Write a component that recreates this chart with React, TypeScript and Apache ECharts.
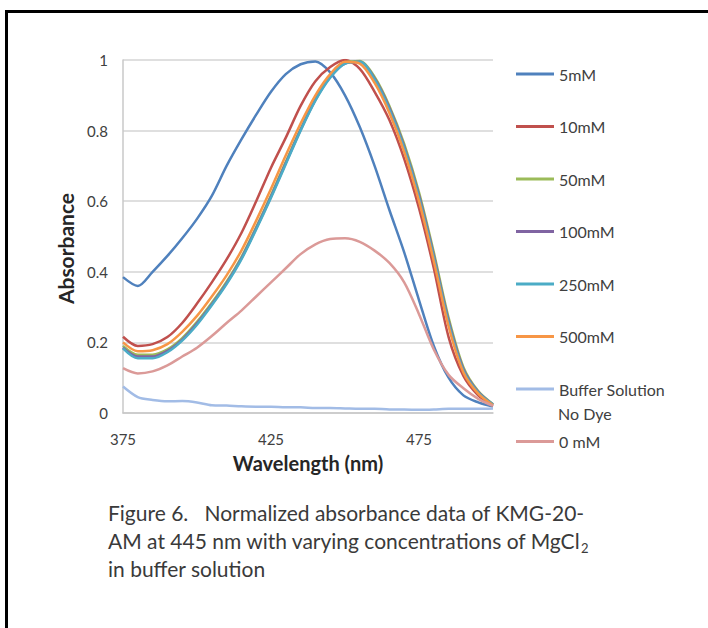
import React, { useEffect, useRef } from "react";
import * as echarts from "echarts";

const wavelengths = [375, 380, 385, 390, 395, 400, 405, 410, 415, 420, 425, 430, 435, 440, 445, 450, 455, 460, 465, 470, 475, 480, 485, 490, 495, 500];

const s5mM = [0.385, 0.36, 0.4, 0.445, 0.495, 0.55, 0.615, 0.7, 0.775, 0.845, 0.91, 0.96, 0.988, 0.996, 0.965, 0.9, 0.81, 0.7, 0.575, 0.455, 0.32, 0.19, 0.1, 0.05, 0.03, 0.018];
const s10mM = [0.216, 0.19, 0.195, 0.215, 0.255, 0.31, 0.37, 0.435, 0.51, 0.6, 0.695, 0.78, 0.87, 0.94, 0.98, 1.0, 0.975, 0.91, 0.83, 0.72, 0.58, 0.41, 0.215, 0.105, 0.05, 0.02];
const s50mM = [0.19, 0.165, 0.165, 0.18, 0.212, 0.258, 0.312, 0.372, 0.442, 0.527, 0.617, 0.712, 0.805, 0.89, 0.955, 0.992, 0.997, 0.952, 0.87, 0.762, 0.625, 0.455, 0.27, 0.13, 0.062, 0.025];
const s100mM = [0.185, 0.16, 0.16, 0.176, 0.208, 0.254, 0.308, 0.368, 0.438, 0.523, 0.613, 0.708, 0.802, 0.887, 0.952, 0.99, 0.995, 0.948, 0.865, 0.755, 0.617, 0.447, 0.262, 0.125, 0.06, 0.024];
const s250mM = [0.183, 0.155, 0.155, 0.172, 0.205, 0.25, 0.305, 0.365, 0.435, 0.52, 0.61, 0.705, 0.8, 0.885, 0.95, 0.99, 0.995, 0.945, 0.86, 0.75, 0.61, 0.44, 0.255, 0.12, 0.058, 0.024];
const s500mM = [0.2, 0.175, 0.178, 0.195, 0.23, 0.275, 0.33, 0.39, 0.46, 0.545, 0.635, 0.73, 0.82, 0.9, 0.96, 0.995, 0.99, 0.935, 0.85, 0.74, 0.6, 0.43, 0.245, 0.115, 0.055, 0.022];
const sBuffer = [0.075, 0.045, 0.037, 0.033, 0.034, 0.03, 0.022, 0.021, 0.019, 0.018, 0.018, 0.016, 0.016, 0.014, 0.014, 0.013, 0.012, 0.012, 0.01, 0.01, 0.009, 0.01, 0.012, 0.012, 0.012, 0.013];
const s0mM = [0.127, 0.112, 0.118, 0.135, 0.16, 0.185, 0.218, 0.255, 0.29, 0.33, 0.37, 0.41, 0.45, 0.478, 0.493, 0.495, 0.485, 0.46, 0.425, 0.37, 0.28, 0.18, 0.108, 0.07, 0.04, 0.02];

const seriesNames = ["5mM", "10mM", "50mM", "100mM", "250mM", "500mM", "Buffer Solution", "0 mM"];
const seriesValues = [s5mM, s10mM, s50mM, s100mM, s250mM, s500mM, sBuffer, s0mM];
const seriesColors = ["#4F81BD", "#C0504D", "#9BBB59", "#8064A2", "#4BACC6", "#F79646", "#A2BCE6", "#DB9A98"];

const xTickLabels = [375, 425, 475];
const captionLines = [
  "Figure 6.   Normalized absorbance data of KMG-20-",
  "AM at 445 nm with varying concentrations of MgCl",
  "in buffer solution",
];

const FONT = "Lato, 'Open Sans', sans-serif";
const TEXT = "#404040";

export default function App() {
  const ref = useRef<HTMLDivElement>(null);

  useEffect(() => {
    if (!ref.current) return;
    const chart = echarts.init(ref.current, undefined, { renderer: "svg" });
    const option: any = {
      animation: false,
      backgroundColor: "#ffffff",
      textStyle: { fontFamily: FONT },
      grid: { left: 123, top: 60, width: 370, height: 353 },
      xAxis: {
        type: "value",
        min: 375,
        max: 500,
        axisLine: { show: true, lineStyle: { color: "#C8C8C8", width: 1.5 } },
        axisTick: { show: false },
        splitLine: { show: false },
        axisLabel: {
          customValues: xTickLabels,
          margin: 18,
          fontSize: 15,
          color: TEXT,
          fontFamily: FONT,
        },
        name: "Wavelength (nm)",
        nameLocation: "middle",
        nameGap: 40,
        nameTextStyle: { fontSize: 20, fontWeight: "bold", color: "#262626", fontFamily: FONT },
      },
      yAxis: {
        type: "value",
        min: 0,
        max: 1,
        interval: 0.2,
        axisLine: { show: true, lineStyle: { color: "#C8C8C8", width: 1.5 } },
        axisTick: { show: false },
        splitLine: { show: true, lineStyle: { color: "#D4D4D4", width: 1.5 } },
        axisLabel: { margin: 15, fontSize: 15, color: TEXT, fontFamily: FONT },
        name: "Absorbance",
        nameLocation: "middle",
        nameGap: 40,
        nameTextStyle: {
          fontSize: 21,
          fontWeight: "bold",
          color: "#262626",
          fontFamily: FONT,
          padding: [0, 24, 0, 0],
        },
      },
      legend: {
        orient: "vertical",
        left: 516,
        top: 66,
        padding: 0,
        itemGap: 36.5,
        itemWidth: 38,
        itemHeight: 3,
        icon: "rect",
        data: seriesNames,
        textStyle: { fontSize: 16, lineHeight: 16, color: TEXT, fontFamily: FONT, padding: [0, 0, 0, 0] },
      },
      series: seriesNames.map((name, i) => ({
        name,
        type: "line",
        data: wavelengths.map((w, j) => [w, seriesValues[i][j]]),
        showSymbol: false,
        symbol: "none",
        smooth: 0.3,
        color: seriesColors[i],
        lineStyle: { width: 2.5, color: seriesColors[i] },
      })),
      graphic: [
        { type: "rect", shape: { x: 5, y: 10, width: 703, height: 3 }, style: { fill: "#000" } },
        { type: "rect", shape: { x: 5, y: 10, width: 3, height: 618 }, style: { fill: "#000" } },
        {
          type: "text",
          x: 558,
          y: 413,
          style: { text: "No Dye", fontSize: 16, fill: TEXT, fontFamily: FONT, verticalAlign: "middle" },
        },
        {
          type: "text",
          x: 108,
          y: 498,
          style: {
            text:
              "{a|" + captionLines[0] + "}\n{a|" + captionLines[1] + "}{s|2}\n{a|" + captionLines[2] + "}",
            verticalAlign: "top",
            rich: {
              a: { fontSize: 21, lineHeight: 28, fill: "#3A3A3A", fontFamily: FONT },
              s: { fontSize: 13, lineHeight: 14, fill: "#3A3A3A", fontFamily: FONT, verticalAlign: "bottom" },
            },
          },
        },
      ],
    };
    chart.setOption(option);
    return () => chart.dispose();
  }, []);

  return (
    <div
      ref={ref}
      style={{ position: "fixed", left: 0, top: 0, width: 708, height: 628 }}
    />
  );
}
